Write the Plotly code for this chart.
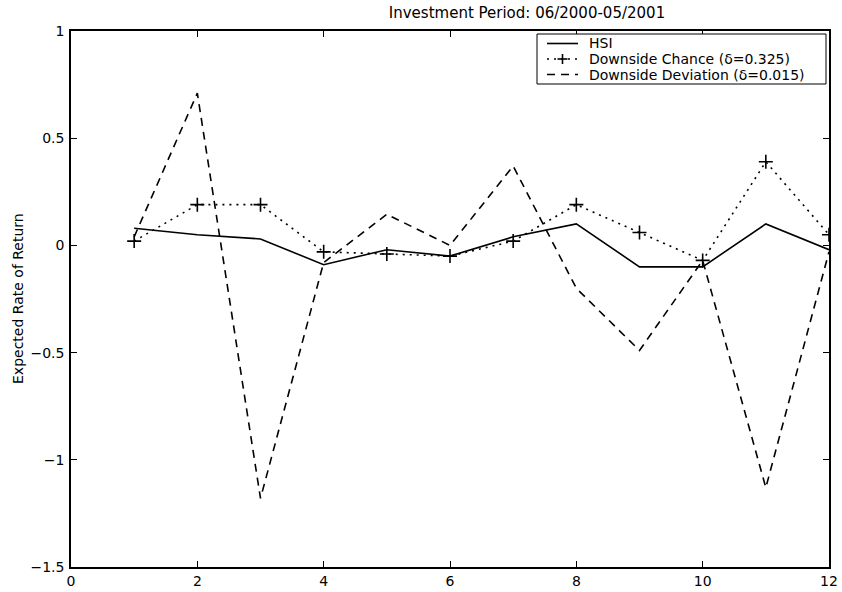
import plotly.graph_objects as go

# Monthly expected rate of return, investment period 06/2000-05/2001
months = [1, 2, 3, 4, 5, 6, 7, 8, 9, 10, 11, 12]
hsi = [0.08, 0.05, 0.03, -0.09, -0.02, -0.05, 0.04, 0.10, -0.10, -0.10, 0.10, -0.02]
downside_chance = [0.02, 0.19, 0.19, -0.03, -0.04, -0.05, 0.02, 0.19, 0.06, -0.07, 0.39, 0.05]
downside_deviation = [0.04, 0.71, -1.18, -0.08, 0.145, 0.0, 0.37, -0.20, -0.49, -0.07, -1.13, -0.03]

series_names = ["HSI", "Downside Chance (δ=0.325)", "Downside Deviation (δ=0.015)"]
x_ticks = [0, 2, 4, 6, 8, 10, 12]
y_ticks = [-1.5, -1, -0.5, 0, 0.5, 1]

FONT = "DejaVu Sans, Liberation Sans, Arial, sans-serif"
W, H = 842, 592
L, R, T, B = 71, 13, 31, 25
PW, PH = W - L - R, H - T - B

DOT = "2px,5px"
DASH = "8px,6px"
LW = 1.6


def px_x(px):
    """Pixel column -> paper x."""
    return (px - L) / PW


def px_y(py):
    """Pixel row -> paper y."""
    return (H - B - py) / PH


fig = go.Figure()

fig.add_trace(go.Scatter(
    x=months, y=hsi, mode="lines", name=series_names[0],
    line=dict(color="black", width=LW), showlegend=False,
))
fig.add_trace(go.Scatter(
    x=months, y=downside_chance, mode="lines+markers", name=series_names[1],
    line=dict(color="black", width=LW, dash=DOT),
    marker=dict(symbol="cross-thin", size=10, color="black",
                line=dict(color="black", width=1.6)),
    showlegend=False,
))
fig.add_trace(go.Scatter(
    x=months, y=downside_deviation, mode="lines", name=series_names[2],
    line=dict(color="black", width=LW, dash=DASH), showlegend=False,
))

axis_common = dict(
    showgrid=False, zeroline=False, automargin=False,
    showline=True, linecolor="black", linewidth=1.5, mirror="ticks",
    ticks="inside", ticklen=6, tickwidth=1.2, tickcolor="black",
    tickfont=dict(family=FONT, size=14, color="black"),
)
fig.update_xaxes(range=[0, 12], tickvals=x_ticks, **axis_common)
fig.update_yaxes(range=[-1.5, 1], tickvals=y_ticks, ticklabelstandoff=2, **axis_common)

# Legend box drawn in the upper-right corner of the axes
box_left, box_right, box_top, box_bottom = 537, 826, 34, 84
row_y = [43.5, 59, 74.5]
sample_x0, sample_x1 = 547, 578
text_x = 587

shapes = [dict(type="rect", xref="paper", yref="paper",
               x0=px_x(box_left), x1=px_x(box_right),
               y0=px_y(box_bottom), y1=px_y(box_top),
               line=dict(color="black", width=1), fillcolor="white", layer="above")]
sample_dash = ["solid", DOT, DASH]
for ry, dash in zip(row_y, sample_dash):
    shapes.append(dict(type="line", xref="paper", yref="paper",
                       x0=px_x(sample_x0), x1=px_x(sample_x1),
                       y0=px_y(ry), y1=px_y(ry),
                       line=dict(color="black", width=LW, dash=dash), layer="above"))
# plus sign on the Downside Chance sample
cx, cy = (sample_x0 + sample_x1) / 2, row_y[1]
shapes.append(dict(type="line", xref="paper", yref="paper",
                   x0=px_x(cx - 5), x1=px_x(cx + 5), y0=px_y(cy), y1=px_y(cy),
                   line=dict(color="black", width=1.6), layer="above"))
shapes.append(dict(type="line", xref="paper", yref="paper",
                   x0=px_x(cx), x1=px_x(cx), y0=px_y(cy - 5), y1=px_y(cy + 5),
                   line=dict(color="black", width=1.6), layer="above"))

annotations = [dict(text=name, xref="paper", yref="paper",
                    x=px_x(text_x), y=px_y(ry), xanchor="left", yanchor="middle",
                    showarrow=False, font=dict(family=FONT, size=14, color="black"))
               for name, ry in zip(series_names, row_y)]

# Y-axis title
annotations.append(dict(text="Expected Rate of Return", xref="paper", yref="paper",
                        x=px_x(18), y=0.5, xanchor="center", yanchor="middle",
                        textangle=-90, showarrow=False,
                        font=dict(family=FONT, size=14, color="black")))

fig.update_layout(
    width=W, height=H,
    margin=dict(l=L, r=R, t=T, b=B, autoexpand=False),
    paper_bgcolor="white", plot_bgcolor="white",
    font=dict(family=FONT, size=14, color="black"),
    title=dict(text="Investment Period: 06/2000-05/2001",
               x=527 / W, xanchor="center", xref="container",
               y=1 - 13 / H, yanchor="middle", yref="container",
               font=dict(family=FONT, size=15, color="black")),
    shapes=shapes,
    annotations=annotations,
    showlegend=False,
)

fig.write_html("out.html")
